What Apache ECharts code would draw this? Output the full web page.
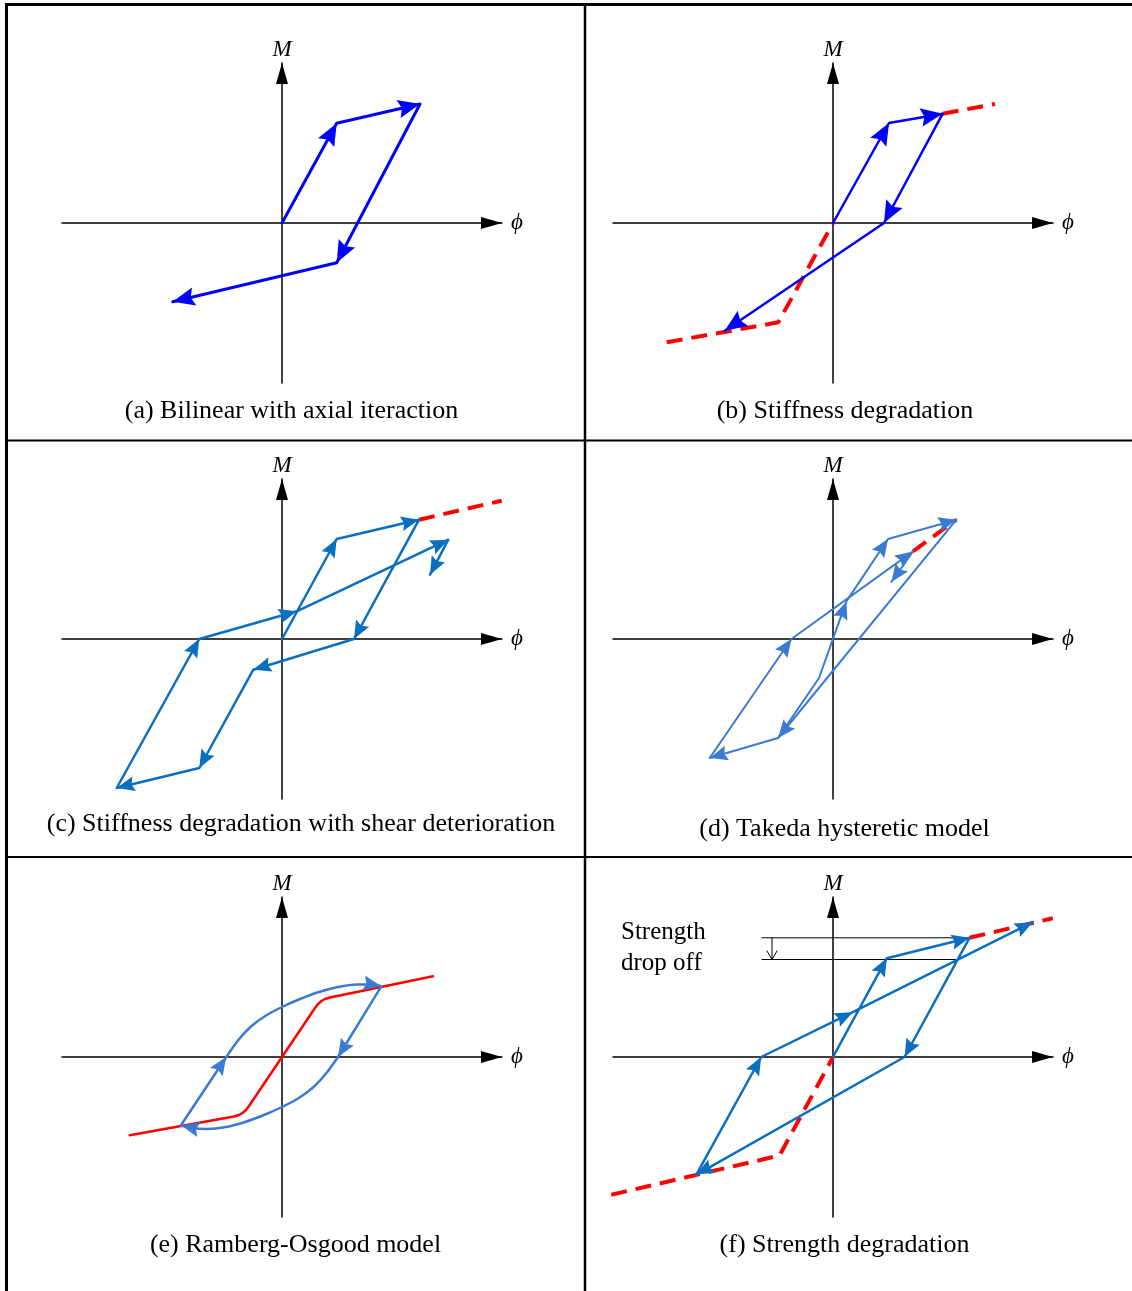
<!DOCTYPE html>
<html>
<head>
<meta charset="utf-8">
<title>Hysteretic models</title>
<script src="https://cdn.jsdelivr.net/npm/echarts@6/dist/echarts.min.js"></script>
<style>
html, body { margin: 0; padding: 0; background: #fff; }
#chart { width: 1132px; height: 1291px; }
</style>
</head>
<body>
<div id="chart"></div>
<script>
// one caption per panel
const captions = [
  '(a) Bilinear with axial iteraction',
  '(b) Stiffness degradation',
  '(c) Stiffness degradation with shear deterioration',
  '(d) Takeda hysteretic model',
  '(e) Ramberg-Osgood model',
  '(f) Strength degradation'
];
const axisNames = ['ϕ', 'M'];

// all points are [phi, M]
// (a)
const aLoop = [[0, 0], [5.47, 9.97], [13.8, 11.9], [5.47, -3.97], [-10.93, -7.87]];
// (b)
const bLoop = [[0, 0], [5.6, 10.0], [10.97, 10.93], [5.1, 0], [-10.83, -10.77]];
const bEnvLow = [[-16.63, -11.93], [-5.47, -9.93], [0, 0]];
const bEnvHigh = [[10.97, 10.93], [16.2, 11.9]];
// (c)
const cLoop = [[0, 0], [5.47, 10.0], [13.7, 11.93], [7.2, 0], [-2.87, -3.07], [-8.27, -12.9],
  [-16.53, -14.9], [-8.27, 0], [1.47, 2.77], [16.63, 9.93], [14.8, 6.43]];
const cEnv = [[13.7, 11.93], [21.97, 13.83]];
// (d)
const dPrimary = [[-5.5, -9.9], [-1.4, -3.9], [1.34, 3.76], [5.5, 10.0], [12.34, 11.93]];
const dUnload = [[12.34, 11.93], [-5.5, -9.9]];
const dCycle = [[-5.5, -9.9], [-12.33, -11.9], [-4.16, 0], [8.0, 8.76], [5.84, 5.7]];
const dEnv = [[8.0, 8.76], [12.34, 11.93]];
// (e)
const eSkeleton = [[-15.23, -7.83], [-4.8, -5.95], [-4.3, -5.8], [-3.95, -5.6], [-3.6, -5.3], [-3.3, -4.9],
  [0, 0], [3.3, 4.9], [3.6, 5.3], [3.95, 5.6], [4.3, 5.8], [4.8, 5.95], [15.1, 8.07]];
const eRise = [[-10.07, -6.77], [-5.57, 0]];
const eArcUp = [[-5.57, 0], [-4.4, 1.65], [-3.1, 3.05], [-1.6, 4.15], [0, 5.0], [1.8, 5.8], [3.7, 6.5],
  [5.6, 7.0], [7.5, 7.25], [9.0, 7.25], [9.93, 7.07]];
const eDrop = [[9.93, 7.07], [5.6, 0]];
const eArcDown = [[5.6, 0], [4.4, -1.65], [3.1, -3.05], [1.6, -4.15], [0, -5.0], [-1.8, -5.8], [-3.7, -6.5],
  [-5.6, -7.0], [-7.5, -7.2], [-9.0, -7.1], [-10.07, -6.85]];
// (f)
const fLoop = [[0, 0], [5.38, 9.88], [13.65, 11.92], [7.15, 0], [-13.68, -11.78], [-7.18, 0], [1.98, 4.48], [19.98, 13.48]];
const fEnvLow = [[-22.18, -13.78], [-5.35, -9.85], [0, 0]];
const fEnvHigh = [[13.65, 11.92], [21.98, 13.88]];
const fDropUpper = [[-7.1, 11.92], [13.65, 11.92]];
const fDropLower = [[-7.1, 9.75], [12.67, 9.75]];
const fDropStem = [[-6.1, 11.92], [-6.1, 9.75]];
const fDropHead = [[-6.6, 10.6], [-6.1, 9.75], [-5.6, 10.6]];

// layout
const gridLeft = [62, 613, 62, 613, 62, 613];
const gridTop = [63, 63, 479, 479, 897, 897];
const capX = [291.5, 845, 301, 844.5, 295.5, 844.5];
const capY = [411, 411, 824, 829, 1245, 1245];

const BLUE = '#0000ff';
const RED = '#ff0000';
const MID = '#0a6fc0';
const LIGHT = '#3a7ad2';
// arrowhead drawn with its own aspect (the symbol keeps it)
const HEAD = 'path://M8,0L16,19L8,16L0,19Z';
const SERIF = '"Liberation Serif", "Times New Roman", serif';

function heads(pairs, color, size) {
  return {
    silent: true,
    animation: false,
    symbol: ['none', HEAD],
    symbolSize: size,
    symbolOffset: [0, [0, size[1] / 2]],
    label: { show: false },
    lineStyle: { color: color, width: 0, type: 'solid' },
    emphasis: { disabled: true },
    data: pairs.map(p => [{ coord: p[0] }, { coord: p[1] }])
  };
}
function atVertices(pts, idx) {
  return idx.map(i => [pts[i - 1], pts[i]]);
}
function path(panel, pts, color, width, arrows, size, extra) {
  const s = {
    type: 'line',
    xAxisIndex: panel,
    yAxisIndex: panel,
    data: pts,
    symbol: 'none',
    clip: false,
    silent: true,
    animation: false,
    z: 3,
    lineStyle: { color: color, width: width, cap: 'round', join: 'round' }
  };
  if (arrows && arrows.length) s.markLine = heads(arrows, color, size);
  return Object.assign(s, extra || {});
}
function dashed(panel, pts, width) {
  return {
    type: 'line', xAxisIndex: panel, yAxisIndex: panel, data: pts, symbol: 'none',
    clip: false, silent: true, animation: false, z: 2,
    lineStyle: { color: RED, width: width, type: [16, 9], cap: 'butt' }
  };
}

const BIG = [18.5, 22];
const SMALL = [15, 18];

const series = [
  // (a)
  path(0, aLoop, BLUE, 3, atVertices(aLoop, [1, 2, 3, 4]), BIG),
  // (b)
  dashed(1, bEnvLow, 4),
  dashed(1, bEnvHigh, 4),
  path(1, bLoop, BLUE, 2.5, atVertices(bLoop, [1, 2, 3, 4]), BIG),
  // (c)
  dashed(2, cEnv, 4),
  path(2, cLoop, MID, 2.5, atVertices(cLoop, [1, 2, 3, 4, 5, 6, 7, 8, 9, 10]), SMALL),
  // (d)
  dashed(3, dEnv, 4),
  path(3, dPrimary, LIGHT, 2, atVertices(dPrimary, [2, 3, 4]), SMALL),
  path(3, dUnload, LIGHT, 2, atVertices(dUnload, [1]), SMALL),
  path(3, dCycle, LIGHT, 2, atVertices(dCycle, [1, 2, 3, 4]), SMALL),
  // (e)
  path(4, eSkeleton, RED, 2.5, null, null, { z: 2 }),
  path(4, eRise, LIGHT, 2.5, atVertices(eRise, [1]), SMALL),
  path(4, eArcUp, LIGHT, 2.5, atVertices(eArcUp, [10]), SMALL, { smooth: 0.3 }),
  path(4, eDrop, LIGHT, 2.5, atVertices(eDrop, [1]), SMALL),
  path(4, eArcDown, LIGHT, 2.5, atVertices(eArcDown, [10]), SMALL, { smooth: 0.3 }),
  // (f)
  dashed(5, fEnvLow, 4),
  dashed(5, fEnvHigh, 4),
  path(5, fDropUpper, '#000', 1, null, null, { z: 1 }),
  path(5, fDropLower, '#000', 1, null, null, { z: 1 }),
  path(5, fDropStem, '#000', 1, null, null, { z: 1 }),
  path(5, fDropHead, '#000', 1, null, null, { z: 1 }),
  path(5, fLoop, MID, 2.5, atVertices(fLoop, [1, 2, 3, 4, 5, 6, 7]), SMALL)
];

const grids = gridLeft.map((l, i) => ({ left: l, top: gridTop[i], width: 440, height: 320 }));

const axisCommon = {
  type: 'value',
  axisTick: { show: false },
  axisLabel: { show: false },
  splitLine: { show: false },
  nameLocation: 'end',
  nameTextStyle: { fontFamily: SERIF, fontStyle: 'italic', fontSize: 23, color: '#000' }
};
const arrowLine = {
  onZero: true,
  symbol: ['none', 'triangle'],
  symbolSize: [12, 21],
  symbolOffset: [0, -10.5],
  lineStyle: { color: '#000', width: 1.5 }
};
const xAxes = grids.map((g, i) => Object.assign({}, axisCommon, {
  gridIndex: i, min: -22, max: 22, name: axisNames[0], nameGap: 9, axisLine: arrowLine
}));
const yAxes = grids.map((g, i) => Object.assign({}, axisCommon, {
  gridIndex: i, min: -16, max: 16, name: axisNames[1], nameGap: 2, axisLine: arrowLine
}));

const frame = [
  [6.5, 4.5, 1132, 4.5, 3],
  [6.5, 3, 6.5, 1291, 3],
  [585, 4, 585, 1291, 2.5],
  [6, 440.5, 1132, 440.5, 2],
  [6, 857, 1132, 857, 2]
];
const graphic = frame.map(f => ({
  type: 'line', silent: true,
  shape: { x1: f[0], y1: f[1], x2: f[2], y2: f[3] },
  style: { stroke: '#000', lineWidth: f[4] }
}));
captions.forEach((c, i) => {
  graphic.push({
    type: 'text', x: capX[i], y: capY[i], silent: true,
    style: { text: c, fill: '#000', font: '26px ' + SERIF, align: 'center', verticalAlign: 'middle', textAlign: 'center', textVerticalAlign: 'middle' }
  });
});
['Strength', 'drop off'].forEach((t, i) => {
  graphic.push({
    type: 'text', x: 621, y: 932 + i * 31, silent: true,
    style: { text: t, fill: '#000', font: '25px ' + SERIF, align: 'left', verticalAlign: 'middle', textAlign: 'left', textVerticalAlign: 'middle' }
  });
});

const chart = echarts.init(document.getElementById('chart'));
chart.setOption({
  backgroundColor: '#fff',
  animation: false,
  grid: grids,
  xAxis: xAxes,
  yAxis: yAxes,
  series: series,
  graphic: graphic
});
</script>
</body>
</html>
